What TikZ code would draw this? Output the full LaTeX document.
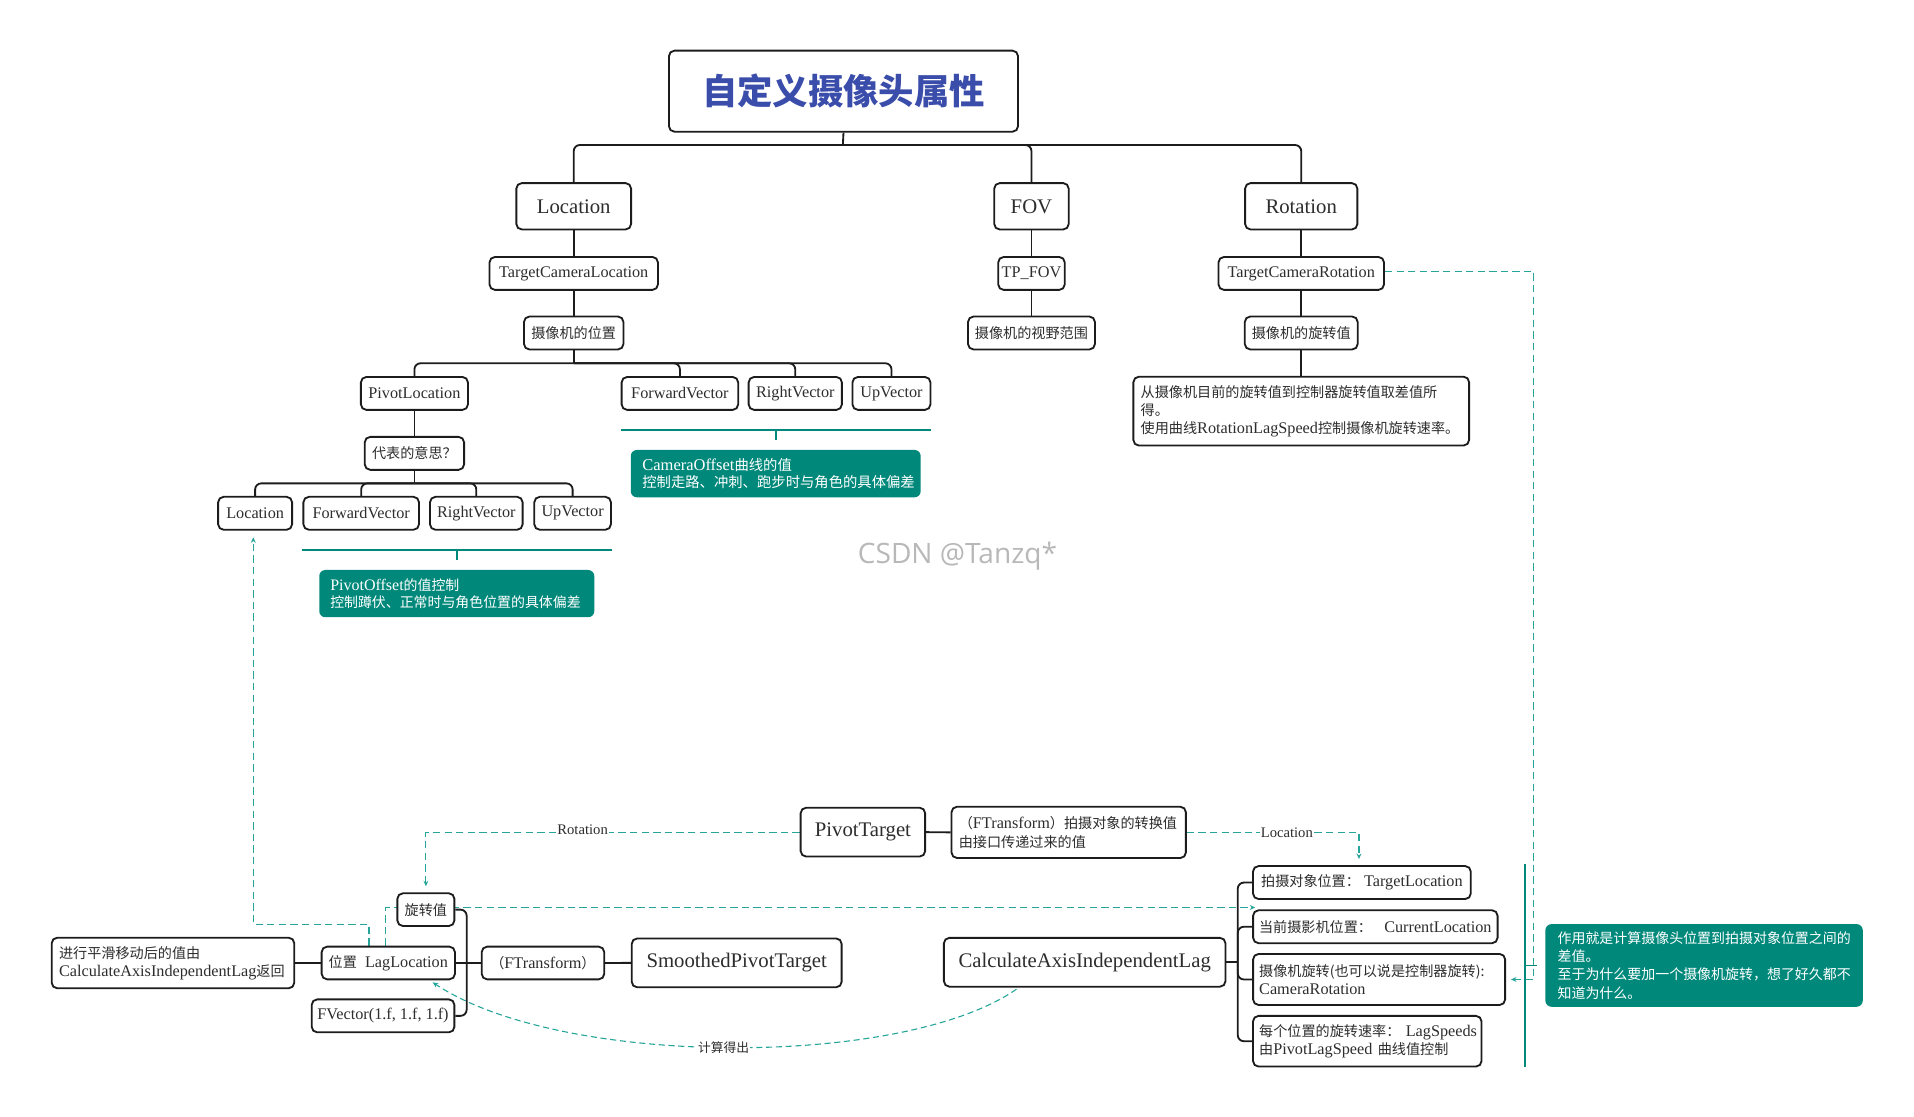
\documentclass[tikz,border=0pt]{standalone}
\usepackage{fontspec}
\setmainfont{Liberation Serif}
\newfontfamily\cjkfont[Scale=0.87]{Noto Sans CJK SC}
\newfontfamily\wmfont{Open Sans}
\usetikzlibrary{arrows.meta}
\newcommand\zh[1]{{\cjkfont #1}}
\definecolor{tealc}{RGB}{0,137,123}
\definecolor{dashc}{RGB}{38,166,154}
\definecolor{titleblue}{RGB}{59,77,170}
\definecolor{inkc}{RGB}{28,28,28}
\definecolor{txtc}{RGB}{45,45,45}
\pgfdeclarelayer{bg}
\pgfsetlayers{bg,main}
\tikzset{
  box/.style={draw=inkc, line width=1.5pt, rounded corners=4.5pt, fill=white, text=txtc, inner sep=0pt, align=center},
  big/.style={box, minimum height=38pt, font=\fontsize{17}{20}\selectfont},
  small/.style={box, minimum height=27pt, font=\fontsize{13.3}{14.6}\selectfont},
  note/.style={box, align=left, inner xsep=6pt, inner ysep=0pt, font=\fontsize{13.3}{14.6}\selectfont},
  tnote/.style={fill=tealc, draw=none, rounded corners=5pt, text=white, align=left, inner ysep=0pt},
  conn/.style={draw=inkc, line width=1.5pt, rounded corners=5pt},
  tealbr/.style={draw=tealc, line width=1.5pt},
  dline/.style={draw=dashc, line width=0.9pt, dash pattern=on 6pt off 3.5pt, -{Stealth[length=4.5pt,width=4pt]}},
  dcurve/.style={draw=dashc, line width=0.9pt, dash pattern=on 5pt off 3pt, -{Stealth[length=4.5pt,width=4pt]}},
  lbl/.style={fill=white, inner sep=1pt, text=txtc, font=\fontsize{12}{12}\selectfont},
}
\begin{document}
\begin{tikzpicture}[x=1pt,y=-1pt]
\useasboundingbox (0,0) rectangle (1568,915);

% ---------- top tree ----------
\node[box, minimum width=286pt, minimum height=66.4pt, text=titleblue,
      font=\fontsize{33.3}{36}\selectfont\cjkfont\bfseries] (title) at (691,74.7) {自定义摄像头属性};

\node[big, minimum width=94pt] (loc) at (470,169) {Location};
\node[big, minimum width=61pt] (fov) at (845,169) {FOV};
\node[big, minimum width=92pt] (rot) at (1066,169) {Rotation};

\node[small, minimum width=138pt] (tcl) at (470,224) {TargetCameraLocation};
\node[small, minimum width=54.5pt] (tpfov) at (845,224) {TP\_FOV};
\node[small, minimum width=135.6pt] (tcr) at (1066,224) {TargetCameraRotation};

\node[small, minimum width=81.5pt] (pos) at (470,272.8) {\zh{摄像机的位置}};
\node[small, minimum width=104pt] (fovr) at (845,272.8) {\zh{摄像机的视野范围}};
\node[small, minimum width=92.5pt] (rotv) at (1066,272.8) {\zh{摄像机的旋转值}};

\node[note, text width=263pt, minimum height=56.4pt] (rotnote) at (1066,336.8)
  {\zh{从摄像机目前的旋转值到控制器旋转值取差值所}\\\zh{得。}\\\zh{使用曲线}RotationLagSpeed\zh{控制摄像机旋转速率。}};

\node[small, minimum width=87.7pt] (pivloc) at (339.5,322.3) {PivotLocation};
\node[small, minimum width=95.5pt] (fwda) at (557,322.3) {ForwardVector};
\node[small, minimum width=76.4pt] (rgta) at (651.5,322.3) {RightVector};
\node[small, minimum width=63.9pt] (upa) at (730.3,322.3) {UpVector};

\node[small, minimum width=81.4pt] (meaning) at (339.5,371.4) {\zh{代表的意思？}};

\node[small, minimum width=60.6pt] (locb) at (209,420.5) {Location};
\node[small, minimum width=94.7pt] (fwdb) at (295.9,420.5) {ForwardVector};
\node[small, minimum width=75.9pt] (rgtb) at (390.2,420.5) {RightVector};
\node[small, minimum width=62.8pt] (upb) at (469.1,420.5) {UpVector};

\node[tnote, font=\fontsize{13.5}{14.5}\selectfont, inner xsep=9.5pt, text width=218.5pt, minimum height=38.8pt] (camoff) at (635.5,388)
  {CameraOffset\zh{曲线的值}\\\zh{控制走路、冲刺、跑步时与角色的具体偏差}};
\node[tnote, font=\fontsize{13.1}{14.5}\selectfont, inner xsep=9pt, text width=207.3pt, minimum height=38.7pt] (pivoff) at (374.2,486.3)
  {PivotOffset\zh{的值控制}\\\zh{控制蹲伏、正常时与角色位置的具体偏差}};

\node[font=\wmfont\fontsize{23}{23}\selectfont, text=black!28] (wm) at (784.4,456) {CSDN @Tanzq*};

% top connectors
\coordinate (bus1) at (690.5,118.8);
\coordinate (bus2) at (470,297.6);
\coordinate (bus3) at (339.5,396);
\draw[conn] (title.south) -- (bus1);
\draw[conn] (bus1) -| (loc.north);
\draw[conn] (bus1) -| (fov.north);
\draw[conn] (bus1) -| (rot.north);
\draw[conn] (loc.south) -- (tcl.north);
\draw[conn] (tcl.south) -- (pos.north);
\draw[conn] (fov.south) -- (tpfov.north);
\draw[conn] (tpfov.south) -- (fovr.north);
\draw[conn] (rot.south) -- (tcr.north);
\draw[conn] (tcr.south) -- (rotv.north);
\draw[conn] (rotv.south) -- (rotnote.north);
\draw[conn] (pos.south) -- (bus2);
\draw[conn] (bus2) -| (pivloc.north);
\draw[conn] (bus2) -| (fwda.north);
\draw[conn] (bus2) -| (rgta.north);
\draw[conn] (bus2) -| (upa.north);
\draw[conn] (pivloc.south) -- (meaning.north);
\draw[conn] (meaning.south) -- (bus3);
\draw[conn] (bus3) -| (locb.north);
\draw[conn] (bus3) -| (fwdb.north);
\draw[conn] (bus3) -| (rgtb.north);
\draw[conn] (bus3) -| (upb.north);

% summary brackets (teal)
\coordinate (ba1) at (508.5,352.3);
\coordinate (ba2) at (762.4,352.3);
\coordinate (ba3) at (635.4,352.3);
\coordinate (ba4) at (635.4,360.4);
\draw[tealbr] (ba1) -- (ba2);
\draw[tealbr] (ba3) -- (ba4);
\coordinate (bb1) at (247.1,450.6);
\coordinate (bb2) at (501.1,450.6);
\coordinate (bb3) at (374.1,450.6);
\coordinate (bb4) at (374.1,458.8);
\draw[tealbr] (bb1) -- (bb2);
\draw[tealbr] (bb3) -- (bb4);

% ---------- bottom part ----------
\node[big, minimum width=102pt, minimum height=40pt] (pivott) at (706.9,681.7) {PivotTarget};
\node[note, text width=180pt, minimum height=42pt, font=\fontsize{13.3}{15}\selectfont] (ftrans1) at (875.5,681.9)
  {\zh{（}FTransform\zh{）拍摄对象的转换值}\\\zh{由接口传递过来的值}};

\node[small, minimum width=178.4pt] (tloc) at (1115.7,723) {\zh{拍摄对象位置：}~TargetLocation};
\node[small, minimum width=200.3pt] (cloc) at (1126.7,759.2) {\zh{当前摄影机位置：}~~~CurrentLocation};
\node[note, inner xsep=5pt, text width=196.5pt, minimum height=41.8pt] (camrot) at (1129.8,802.4)
  {\zh{摄像机旋转(也可以说是控制器旋转):}\\CameraRotation};
\node[note, inner xsep=5pt, text width=177.2pt, minimum height=41.5pt] (lagsp) at (1120.1,853)
  {\zh{每个位置的旋转速率：}~LagSpeeds\\\zh{由}PivotLagSpeed~\zh{曲线值控制}};

\node[big, minimum width=230.7pt, minimum height=40pt] (calc) at (888.6,788.3) {CalculateAxisIndependentLag};
\node[big, minimum width=172pt, minimum height=40pt] (smooth) at (603.5,788.8) {SmoothedPivotTarget};
\node[small, minimum width=100.4pt, minimum height=26.8pt] (ftrans2) at (444.8,788.9) {\zh{（}FTransform\zh{）}};
\node[small, minimum width=109.2pt, minimum height=26.8pt] (lagloc) at (318.1,788.9) {\zh{位置}~~LagLocation};
\node[small, minimum width=46.7pt, minimum height=26.8pt] (rotval) at (348.9,745.2) {\zh{旋转值}};
\node[small, minimum width=116.9pt] (fvec) at (313.8,832.2) {FVector(1.f, 1.f, 1.f)};
\node[note, text width=186.7pt, minimum height=41.4pt] (smoothnote) at (141.7,788.9)
  {\zh{进行平滑移动后的值由}\\CalculateAxisIndependentLag\zh{返回}};

\node[tnote, font=\fontsize{13.15}{15}\selectfont, inner xsep=10pt, text width=240pt, minimum height=67.7pt] (summary) at (1396,790.9)
  {\zh{作用就是计算摄像头位置到拍摄对象位置之间的}\\\zh{差值。}\\\zh{至于为什么要加一个摄像机旋转，想了好久都不}\\\zh{知道为什么。}};

% bottom connectors
\coordinate (bk1) at (382.3,788.9);
\coordinate (bk2) at (1014,788.3);
\draw[conn] (pivott.east) -- (ftrans1.west);
\draw[conn] (smoothnote.east) -- (lagloc.west);
\draw[conn] (lagloc.east) -- (ftrans2.west);
\draw[conn] (rotval.east) -| (bk1);
\draw[conn] (fvec.east) -| (bk1);
\draw[conn] (ftrans2.east) -- (smooth.west);
\draw[conn] (calc.east) -- (bk2);
\draw[conn] (bk2) |- (tloc.west);
\draw[conn] (bk2) |- (cloc.west);
\draw[conn] (bk2) |- (camrot.west);
\draw[conn] (bk2) |- (lagsp.west);

% summary bracket right
\coordinate (bc1) at (1249,708);
\coordinate (bc2) at (1249,874);
\coordinate (bc3) at (1249,791);
\coordinate (bc4) at (1259,791);
\draw[tealbr] (bc1) -- (bc2);
\draw[tealbr] (bc3) -- (bc4);

% dashed relations
\coordinate (dr1) at (1256.6,222.5);
\coordinate (dk1) at (207.5,757.2);
\begin{pgfonlayer}{bg}
\draw[dline] ([yshift=1.5pt]tcr.east) -- (dr1) |- ([xshift=4pt]camrot.east);
\draw[dline] (pivott.west) -| ([yshift=5pt]rotval.north);
\draw[dline] (ftrans1.east) -| ([xshift=-2.4pt,yshift=5pt]tloc.north);
\draw[dline] ([xshift=-2.1pt]lagloc.north) |- ([xshift=2.5pt,yshift=1.5pt]cloc.north west);
\draw[dline] ([xshift=-15.8pt]lagloc.north) |- (dk1) -- ([xshift=-1.5pt,yshift=-5.4pt]locb.south);
\draw[dcurve] ([xshift=-55.9pt,yshift=-1.3pt]calc.south) .. controls (740,875) and (460,875) ..
   node[pos=0.51, lbl, font=\fontsize{12}{12}\selectfont\cjkfont] (lblcalc) {计算得出}
   ([xshift=-19pt,yshift=-1.7pt]lagloc.south east);
\end{pgfonlayer}
\node[lbl] (lblrot) at (477.3,680) {Rotation};
\node[lbl] (lblloc) at (1054.2,681.8) {Location};
\end{tikzpicture}
\end{document}
